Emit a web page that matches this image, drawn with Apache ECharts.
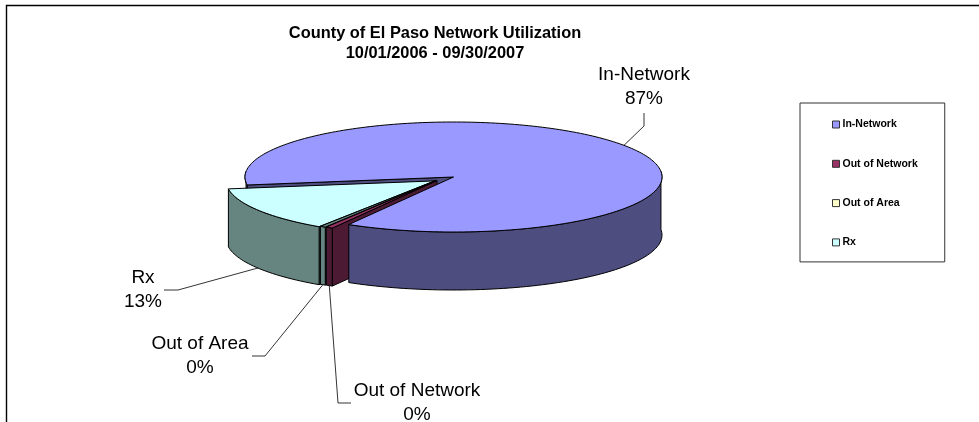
<!DOCTYPE html>
<html><head><meta charset="utf-8">
<style>html,body{margin:0;padding:0;background:#fff}#c{width:979px;height:422px}</style>
<script src="https://cdn.jsdelivr.net/npm/echarts@6/dist/echarts.min.js"></script>
</head><body><div id="c"></div>
<script>
var titleLines = ['County of El Paso Network Utilization', '10/01/2006 - 09/30/2007'];
var categories = ['In-Network', 'Out of Network', 'Out of Area', 'Rx'];
var values = [86.5, 0.49, 0.41, 12.6];

var FONT = '"Liberation Sans", Arial, sans-serif';
var legendColors = ['#9999FF', '#993366', '#FFFFCC', '#CCFFFF'];
var topColors = ['#9999FF', '#993366', '#668580', '#CCFFFF'];
var sideColors = ['#4D4D80', '#4D1A33', '#668580', '#668580'];
var geo = {cx: 453.5, cy: 177, a: 208.5, b: 55, depth: 58, warp: 0.1, start: 166.1};
var explode = [[0, 0], [-16.5, 3.5], [-17.5, 3.5], [-18.8, 3.9]];
var drawOrder = [0, 8, 6, 4];
var labelLayout = [
  {x: 644, y: 87, elbow: [[644, 113], [644, 126]], onTop: true, shift: 8},
  {x: 417, y: 403, elbow: [[351, 403], [338, 403]], shift: 0},
  {x: 200, y: 356, elbow: [[252, 356], [265, 356]], shift: 0},
  {x: 143, y: 290, elbow: [[164, 290], [178, 290]], shift: 0}
];
var total = values.reduce(function (s, v) { return s + v; }, 0);

function warpAngle(deg) {
  var r = deg * Math.PI / 180;
  return r - geo.warp * Math.cos(r);
}
function spans() {
  var out = [], cur = geo.start;
  values.forEach(function (v) {
    var sweep = v / total * 360;
    out.push([cur, cur + sweep]);
    cur += sweep;
  });
  return out;
}
function pt(t, ox, oy, dz) {
  return [geo.cx + ox + geo.a * Math.cos(t), geo.cy + oy + geo.b * Math.sin(t) + (dz || 0)];
}
function arc(d1, d2, ox, oy, dz) {
  var pts = [], n = Math.max(2, Math.ceil(Math.abs(d2 - d1) / 1.5));
  for (var i = 0; i <= n; i++) {
    pts.push(pt(warpAngle(d1 + (d2 - d1) * i / n), ox, oy, dz));
  }
  return pts;
}
function poly(points, fill, z2) {
  return {type: 'polygon', shape: {points: points}, z2: z2, silent: true,
    style: {fill: fill, stroke: '#000', lineWidth: 1, lineJoin: 'round'}};
}
function sidePoly(d1, d2, ox, oy, fill, z2) {
  return poly(arc(d1, d2, ox, oy, 0).concat(arc(d2, d1, ox, oy, geo.depth)), fill, z2);
}
function cutFace(d, ox, oy, fill, z2) {
  var rim = pt(warpAngle(d), ox, oy, 0), ap = [geo.cx + ox, geo.cy + oy];
  return poly([ap, rim, [rim[0], rim[1] + geo.depth], [ap[0], ap[1] + geo.depth]], fill, z2);
}
function render(i) {
  return function () {
    var s = spans()[i], d1 = s[0], d2 = s[1];
    var ox = explode[i][0], oy = explode[i][1];
    var top = [[geo.cx + ox, geo.cy + oy]].concat(arc(d1, d2, ox, oy, 0));
    var kids = [];
    if (i === 0) {
      kids.push(cutFace(d1, 0, 0, sideColors[0], 1));
      kids.push(sidePoly(d1, 180, 0, 0, sideColors[0], 1));
      kids.push(sidePoly(360, d2, 0, 0, sideColors[0], 20));
      kids.push(poly(top, topColors[0], 21));
    } else {
      var base = drawOrder[i];
      kids.push(cutFace(d1, ox, oy, sideColors[i], base));
      kids.push(sidePoly(d1, d2, ox, oy, sideColors[i], base + 1));
      kids.push(poly(top, topColors[i], i === 1 ? 22 : base + 1));
    }
    var L = labelLayout[i], mid = warpAngle((d1 + d2) / 2 + L.shift);
    var anchor = pt(mid, ox, oy, L.onTop ? 0 : geo.depth);
    kids.push({type: 'polyline', z2: 30, silent: true,
      shape: {points: L.elbow.concat([anchor])},
      style: {fill: null, stroke: '#000', lineWidth: 0.8}});
    kids.push({type: 'text', z2: 31, silent: true, style: {
      text: categories[i] + '\n' + Math.round(values[i] / total * 100) + '%',
      x: L.x, y: L.y, fill: '#000', font: '19px ' + FONT, lineHeight: 23.5,
      align: 'center', verticalAlign: 'top', textAlign: 'center', textVerticalAlign: 'middle'}});
    return {type: 'group', children: kids};
  };
}
var chart = echarts.init(document.getElementById('c'), null, {renderer: 'canvas'});
chart.setOption({
  animation: false,
  backgroundColor: '#fff',
  title: {
    text: titleLines.join('\n'), left: 430, top: 18, textAlign: 'center',
    textStyle: {fontFamily: FONT, fontSize: 16.4, fontWeight: 'bold', color: '#000', lineHeight: 20}
  },
  legend: {
    orient: 'vertical', left: 800, top: 103, padding: [16, 27, 14, 32],
    itemWidth: 7, itemHeight: 7, itemGap: 28.3, align: 'left',
    borderColor: '#333', borderWidth: 1,
    icon: 'rect', selectedMode: false,
    textStyle: {fontFamily: FONT, fontSize: 10.5, fontWeight: 'bold', color: '#000', padding: [0, 0, 0, -2]},
    itemStyle: {borderColor: '#333', borderWidth: 1},
    data: categories
  },
  graphic: [{type: 'polyline', silent: true, shape: {points: [[6.5, 422], [6.5, 5.5], [979, 5.5]]},
    style: {fill: null, stroke: '#000', lineWidth: 1.4}}],
  series: categories.map(function (name, i) {
    return {type: 'custom', name: name, coordinateSystem: 'none', silent: true,
      itemStyle: {color: legendColors[i]}, renderItem: render(i), data: [[values[i]]]};
  })
});
</script></body></html>
